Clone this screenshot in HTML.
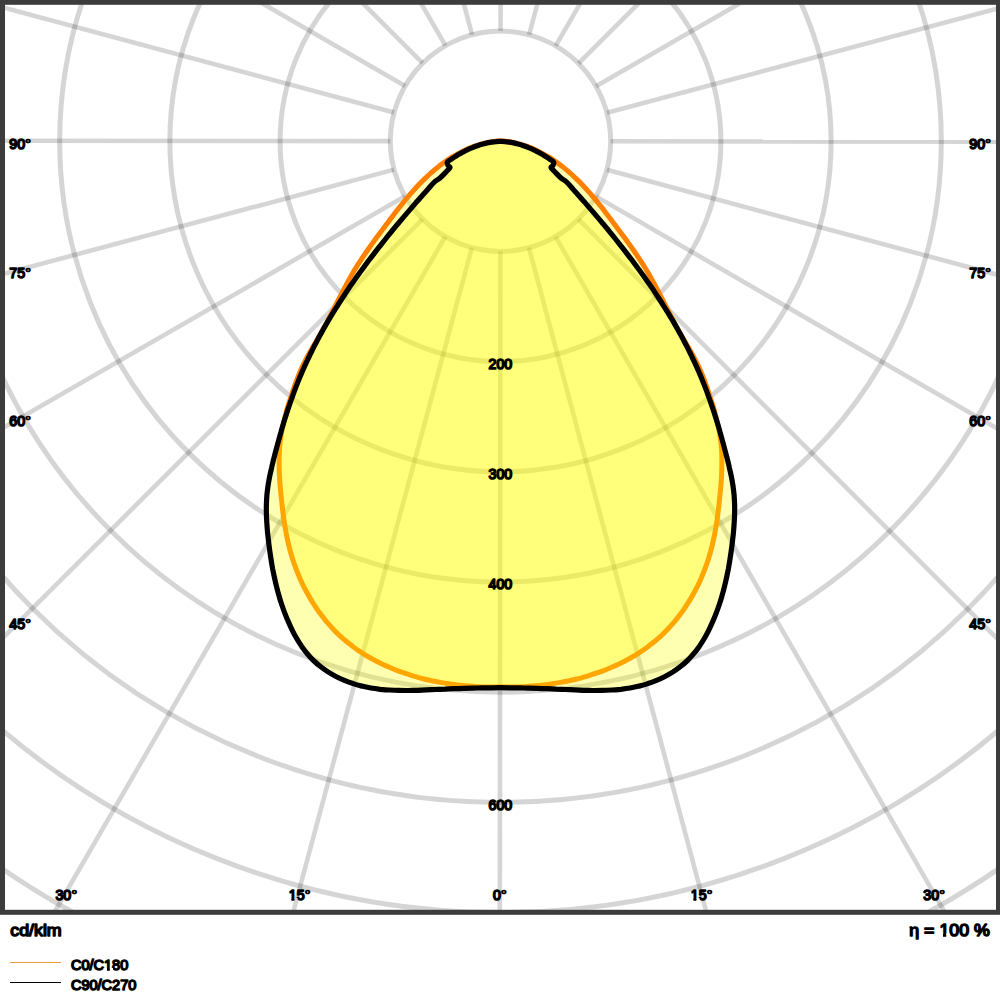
<!DOCTYPE html>
<html><head><meta charset="utf-8"><title>Polar light distribution</title>
<style>
html,body{margin:0;padding:0;background:#fff;}
body{width:1000px;height:1000px;overflow:hidden;}
svg{display:block;}
text{font-family:"Liberation Sans",sans-serif;fill:#000;stroke:#000;stroke-linejoin:round;font-kerning:none;}
.s{font-size:14.2px;stroke-width:1.6px;}
.l{font-size:14.55px;stroke-width:1.5px;}
.b{font-size:17.8px;stroke-width:1.6px;}
</style></head><body>
<svg width="1000" height="1000" viewBox="0 0 1000 1000">
<defs><clipPath id="k15"><path clip-rule="evenodd" d="M-200,-60H200V60H-200Z M-11.495,-2.111H-8.206V2.300H-11.495Z M-5.351,-2.111H-2.173V2.300H-5.351Z"/></clipPath><clipPath id="kC"><path clip-rule="evenodd" d="M-200,-60H200V60H-200Z M32.708,-2.087H36.058V2.250H32.708Z M38.844,-2.087H42.081V2.250H38.844Z"/></clipPath><clipPath id="kE"><path clip-rule="evenodd" d="M-200,-60H200V60H-200Z M-50.715,-2.380H-46.795V2.300H-50.715Z M-43.622,-2.380H-39.841V2.300H-43.622Z"/></clipPath><clipPath id="cp"><rect x="0" y="0" width="1000" height="912"/></clipPath></defs>
<rect width="1000" height="1000" fill="#fff"/>
<g clip-path="url(#cp)">
<g fill="none" stroke="#000" stroke-opacity="0.165" stroke-width="5">
<circle cx="500.50" cy="141.20" r="110.20"/>
<circle cx="500.50" cy="141.20" r="220.40"/>
<circle cx="500.50" cy="141.20" r="330.60"/>
<circle cx="500.50" cy="141.20" r="440.80"/>
<circle cx="500.50" cy="141.20" r="551.00"/>
<circle cx="500.50" cy="141.20" r="661.20"/>
<circle cx="500.50" cy="141.20" r="771.40"/>
<circle cx="500.50" cy="141.20" r="881.60"/>
<circle cx="500.50" cy="141.20" r="991.80"/>
<circle cx="500.50" cy="141.20" r="1102.00"/>
<line x1="500.50" y1="251.40" x2="500.50" y2="1441.20" stroke-width="4.6" transform="rotate(0.05 500.50 141.20)"/>
<line x1="529.02" y1="247.65" x2="836.96" y2="1396.90" stroke-width="4.6" transform="rotate(0.05 500.50 141.20)"/>
<line x1="555.60" y1="236.64" x2="1150.50" y2="1267.03" stroke-width="4.6" transform="rotate(0.05 500.50 141.20)"/>
<line x1="578.42" y1="219.12" x2="1419.74" y2="1060.44" stroke-width="4.6" transform="rotate(0.05 500.50 141.20)"/>
<line x1="595.94" y1="196.30" x2="1626.33" y2="791.20" stroke-width="4.6" transform="rotate(0.05 500.50 141.20)"/>
<line x1="606.95" y1="169.72" x2="1756.20" y2="477.66" stroke-width="4.6" transform="rotate(0.05 500.50 141.20)"/>
<line x1="610.70" y1="141.20" x2="1800.50" y2="141.20" stroke-width="4.6" transform="rotate(0.05 500.50 141.20)"/>
<line x1="606.95" y1="112.68" x2="1756.20" y2="-195.26" stroke-width="4.6" transform="rotate(0.05 500.50 141.20)"/>
<line x1="595.94" y1="86.10" x2="1626.33" y2="-508.80" stroke-width="4.6" transform="rotate(0.05 500.50 141.20)"/>
<line x1="578.42" y1="63.28" x2="1419.74" y2="-778.04" stroke-width="4.6" transform="rotate(0.05 500.50 141.20)"/>
<line x1="555.60" y1="45.76" x2="1150.50" y2="-984.63" stroke-width="4.6" transform="rotate(0.05 500.50 141.20)"/>
<line x1="529.02" y1="34.75" x2="836.96" y2="-1114.50" stroke-width="4.6" transform="rotate(0.05 500.50 141.20)"/>
<line x1="500.50" y1="31.00" x2="500.50" y2="-1158.80" stroke-width="4.6" transform="rotate(0.05 500.50 141.20)"/>
<line x1="471.98" y1="34.75" x2="164.04" y2="-1114.50" stroke-width="4.6" transform="rotate(0.05 500.50 141.20)"/>
<line x1="445.40" y1="45.76" x2="-149.50" y2="-984.63" stroke-width="4.6" transform="rotate(0.05 500.50 141.20)"/>
<line x1="422.58" y1="63.28" x2="-418.74" y2="-778.04" stroke-width="4.6" transform="rotate(0.05 500.50 141.20)"/>
<line x1="405.06" y1="86.10" x2="-625.33" y2="-508.80" stroke-width="4.6" transform="rotate(0.05 500.50 141.20)"/>
<line x1="394.05" y1="112.68" x2="-755.20" y2="-195.26" stroke-width="4.6" transform="rotate(0.05 500.50 141.20)"/>
<line x1="390.30" y1="141.20" x2="-799.50" y2="141.20" stroke-width="4.6" transform="rotate(0.05 500.50 141.20)"/>
<line x1="394.05" y1="169.72" x2="-755.20" y2="477.66" stroke-width="4.6" transform="rotate(0.05 500.50 141.20)"/>
<line x1="405.06" y1="196.30" x2="-625.33" y2="791.20" stroke-width="4.6" transform="rotate(0.05 500.50 141.20)"/>
<line x1="422.58" y1="219.12" x2="-418.74" y2="1060.44" stroke-width="4.6" transform="rotate(0.05 500.50 141.20)"/>
<line x1="445.40" y1="236.64" x2="-149.50" y2="1267.03" stroke-width="4.6" transform="rotate(0.05 500.50 141.20)"/>
<line x1="471.98" y1="247.65" x2="164.04" y2="1396.90" stroke-width="4.6" transform="rotate(0.05 500.50 141.20)"/>
</g>
<path d="M500.5,141.0 C499.1,141.1 494.8,141.3 492.0,141.7 C489.2,142.1 486.4,142.7 483.6,143.4 C480.9,144.1 478.1,144.9 475.4,145.8 C472.7,146.8 470.0,147.8 467.3,149.0 C464.7,150.2 462.1,151.5 459.5,152.9 C456.9,154.2 454.4,155.7 451.9,157.2 C449.4,158.8 446.9,160.4 444.6,162.1 C442.2,163.8 439.8,165.6 437.6,167.4 C435.3,169.2 433.1,171.1 430.9,173.0 C428.8,174.9 426.7,176.9 424.6,178.9 C422.5,180.9 420.5,182.9 418.5,185.0 C416.5,187.1 414.6,189.2 412.7,191.4 C410.7,193.6 408.9,195.7 407.0,198.0 C405.1,200.2 403.3,202.4 401.5,204.7 C399.7,206.9 397.9,209.2 396.1,211.5 C394.4,213.8 392.6,216.1 390.9,218.4 C389.1,220.7 387.4,223.1 385.6,225.4 C383.9,227.7 382.2,230.0 380.5,232.4 C378.7,234.7 377.0,237.0 375.3,239.3 C373.6,241.7 371.9,244.0 370.2,246.4 C368.6,248.7 366.9,251.1 365.3,253.5 C363.6,255.8 362.0,258.2 360.5,260.7 C358.9,263.1 357.3,265.5 355.8,268.0 C354.3,270.4 352.9,272.9 351.4,275.4 C350.0,277.9 348.6,280.4 347.2,283.0 C345.8,285.5 344.5,288.1 343.1,290.7 C341.8,293.2 340.5,295.8 339.1,298.4 C337.8,301.0 336.5,303.6 335.2,306.2 C333.9,308.8 332.6,311.3 331.2,313.9 C329.9,316.5 328.6,319.1 327.2,321.7 C325.9,324.2 324.5,326.8 323.1,329.3 C321.7,331.8 320.3,334.4 318.8,336.9 C317.4,339.4 315.9,341.8 314.5,344.3 C313.0,346.8 311.6,349.3 310.1,351.8 C308.7,354.3 307.3,356.8 306.0,359.4 C304.7,361.9 303.4,364.5 302.1,367.1 C300.9,369.7 299.8,372.4 298.7,375.0 C297.6,377.7 296.6,380.4 295.6,383.1 C294.6,385.9 293.6,388.6 292.7,391.4 C291.8,394.1 290.9,396.9 290.0,399.7 C289.1,402.4 288.2,405.2 287.4,408.0 C286.6,410.8 285.8,413.7 285.1,416.5 C284.4,419.3 283.7,422.1 283.1,425.0 C282.4,427.8 281.9,430.6 281.4,433.5 C280.9,436.3 280.5,439.2 280.2,442.1 C279.8,444.9 279.6,447.8 279.4,450.7 C279.3,453.5 279.2,456.4 279.1,459.3 C279.1,462.2 279.1,465.0 279.2,467.9 C279.2,470.8 279.4,473.7 279.5,476.6 C279.7,479.5 279.9,482.4 280.1,485.3 C280.3,488.1 280.6,491.0 280.9,493.9 C281.2,496.8 281.5,499.7 281.8,502.6 C282.1,505.5 282.4,508.3 282.8,511.2 C283.1,514.1 283.5,517.0 283.9,519.8 C284.3,522.7 284.8,525.6 285.3,528.4 C285.8,531.3 286.3,534.1 286.9,537.0 C287.5,539.8 288.1,542.6 288.8,545.4 C289.5,548.2 290.2,551.0 291.0,553.8 C291.8,556.6 292.7,559.4 293.6,562.1 C294.6,564.9 295.6,567.6 296.6,570.3 C297.7,573.1 298.8,575.7 299.9,578.4 C301.1,581.1 302.3,583.7 303.6,586.3 C304.9,588.9 306.3,591.5 307.7,594.0 C309.1,596.6 310.5,599.1 312.1,601.5 C313.6,604.0 315.2,606.4 316.8,608.8 C318.4,611.2 320.1,613.5 321.9,615.8 C323.6,618.1 325.4,620.4 327.3,622.6 C329.2,624.7 331.1,626.9 333.1,629.0 C335.0,631.1 337.1,633.1 339.1,635.1 C341.2,637.0 343.4,638.9 345.6,640.8 C347.8,642.6 350.0,644.4 352.3,646.1 C354.6,647.9 356.9,649.5 359.3,651.1 C361.7,652.7 364.2,654.3 366.6,655.8 C369.1,657.2 371.6,658.7 374.2,660.0 C376.7,661.4 379.3,662.7 381.9,664.0 C384.6,665.2 387.2,666.4 389.9,667.5 C392.6,668.7 395.3,669.8 398.0,670.8 C400.7,671.8 403.5,672.8 406.3,673.7 C409.0,674.7 411.8,675.5 414.6,676.4 C417.4,677.2 420.3,677.9 423.1,678.7 C425.9,679.4 428.8,680.0 431.6,680.7 C434.5,681.3 437.3,681.9 440.2,682.4 C443.0,682.9 445.9,683.4 448.7,683.8 C451.6,684.2 454.4,684.6 457.3,684.9 C460.2,685.3 463.0,685.6 465.9,685.8 C468.8,686.1 471.6,686.3 474.5,686.5 C477.4,686.7 480.2,686.8 483.1,686.9 C486.0,687.0 488.8,687.1 491.7,687.1 C494.6,687.1 497.6,687.1 500.5,687.1 C503.4,687.1 506.4,687.1 509.3,687.1 C512.2,687.1 515.0,687.0 517.9,686.9 C520.8,686.8 523.6,686.7 526.5,686.5 C529.4,686.3 532.2,686.1 535.1,685.8 C538.0,685.6 540.8,685.3 543.7,684.9 C546.6,684.6 549.4,684.2 552.3,683.8 C555.1,683.4 558.0,682.9 560.8,682.4 C563.7,681.9 566.5,681.3 569.4,680.7 C572.2,680.0 575.1,679.4 577.9,678.7 C580.7,677.9 583.6,677.2 586.4,676.4 C589.2,675.5 592.0,674.7 594.7,673.7 C597.5,672.8 600.3,671.8 603.0,670.8 C605.7,669.8 608.4,668.7 611.1,667.5 C613.8,666.4 616.4,665.2 619.1,664.0 C621.7,662.7 624.3,661.4 626.8,660.0 C629.4,658.7 631.9,657.2 634.4,655.8 C636.8,654.3 639.3,652.7 641.7,651.1 C644.1,649.5 646.4,647.9 648.7,646.1 C651.0,644.4 653.2,642.6 655.4,640.8 C657.6,638.9 659.8,637.0 661.9,635.1 C663.9,633.1 666.0,631.1 667.9,629.0 C669.9,626.9 671.8,624.7 673.7,622.6 C675.6,620.4 677.4,618.1 679.1,615.8 C680.9,613.5 682.6,611.2 684.2,608.8 C685.8,606.4 687.4,604.0 688.9,601.5 C690.5,599.1 691.9,596.6 693.3,594.0 C694.7,591.5 696.1,588.9 697.4,586.3 C698.7,583.7 699.9,581.1 701.1,578.4 C702.2,575.7 703.3,573.1 704.4,570.3 C705.4,567.6 706.4,564.9 707.4,562.1 C708.3,559.4 709.2,556.6 710.0,553.8 C710.8,551.0 711.5,548.2 712.2,545.4 C712.9,542.6 713.5,539.8 714.1,537.0 C714.7,534.1 715.2,531.3 715.7,528.4 C716.2,525.6 716.7,522.7 717.1,519.8 C717.5,517.0 717.9,514.1 718.2,511.2 C718.6,508.3 718.9,505.5 719.2,502.6 C719.5,499.7 719.8,496.8 720.1,493.9 C720.4,491.0 720.7,488.1 720.9,485.3 C721.1,482.4 721.3,479.5 721.5,476.6 C721.6,473.7 721.8,470.8 721.8,467.9 C721.9,465.0 721.9,462.2 721.9,459.3 C721.8,456.4 721.7,453.5 721.6,450.7 C721.4,447.8 721.2,444.9 720.8,442.1 C720.5,439.2 720.1,436.3 719.6,433.5 C719.1,430.6 718.6,427.8 717.9,425.0 C717.3,422.1 716.6,419.3 715.9,416.5 C715.2,413.7 714.4,410.8 713.6,408.0 C712.8,405.2 711.9,402.4 711.0,399.7 C710.1,396.9 709.2,394.1 708.3,391.4 C707.4,388.6 706.4,385.9 705.4,383.1 C704.4,380.4 703.4,377.7 702.3,375.0 C701.2,372.4 700.1,369.7 698.9,367.1 C697.6,364.5 696.3,361.9 695.0,359.4 C693.7,356.8 692.3,354.3 690.9,351.8 C689.4,349.3 688.0,346.8 686.5,344.3 C685.1,341.8 683.6,339.4 682.2,336.9 C680.7,334.4 679.3,331.8 677.9,329.3 C676.5,326.8 675.1,324.2 673.8,321.7 C672.4,319.1 671.1,316.5 669.8,313.9 C668.4,311.3 667.1,308.8 665.8,306.2 C664.5,303.6 663.2,301.0 661.9,298.4 C660.5,295.8 659.2,293.2 657.9,290.7 C656.5,288.1 655.2,285.5 653.8,283.0 C652.4,280.4 651.0,277.9 649.6,275.4 C648.1,272.9 646.7,270.4 645.2,268.0 C643.7,265.5 642.1,263.1 640.5,260.7 C639.0,258.2 637.4,255.8 635.7,253.5 C634.1,251.1 632.4,248.7 630.8,246.4 C629.1,244.0 627.4,241.7 625.7,239.3 C624.0,237.0 622.3,234.7 620.5,232.4 C618.8,230.0 617.1,227.7 615.4,225.4 C613.6,223.1 611.9,220.7 610.1,218.4 C608.4,216.1 606.6,213.8 604.9,211.5 C603.1,209.2 601.3,206.9 599.5,204.7 C597.7,202.4 595.9,200.2 594.0,198.0 C592.1,195.7 590.3,193.6 588.3,191.4 C586.4,189.2 584.5,187.1 582.5,185.0 C580.5,182.9 578.5,180.9 576.4,178.9 C574.3,176.9 572.2,174.9 570.1,173.0 C567.9,171.1 565.7,169.2 563.4,167.4 C561.2,165.6 558.8,163.8 556.4,162.1 C554.1,160.4 551.6,158.8 549.1,157.2 C546.6,155.7 544.1,154.2 541.5,152.9 C538.9,151.5 536.3,150.2 533.7,149.0 C531.0,147.8 528.3,146.8 525.6,145.8 C522.9,144.9 520.1,144.1 517.4,143.4 C514.6,142.7 511.8,142.1 509.0,141.7 C506.2,141.3 501.9,141.1 500.5,141.0 Z" fill="#ffff00" fill-opacity="0.3"/>
<path d="M500.5,141.0 C499.1,141.1 494.8,141.3 492.0,141.7 C489.2,142.1 486.4,142.7 483.6,143.4 C480.9,144.1 478.1,144.9 475.4,145.8 C472.7,146.8 470.0,147.8 467.3,149.0 C464.7,150.2 462.1,151.5 459.5,152.9 C456.9,154.2 454.4,155.7 451.9,157.2 C449.4,158.8 446.9,160.4 444.6,162.1 C442.2,163.8 439.8,165.6 437.6,167.4 C435.3,169.2 433.1,171.1 430.9,173.0 C428.8,174.9 426.7,176.9 424.6,178.9 C422.5,180.9 420.5,182.9 418.5,185.0 C416.5,187.1 414.6,189.2 412.7,191.4 C410.7,193.6 408.9,195.7 407.0,198.0 C405.1,200.2 403.3,202.4 401.5,204.7 C399.7,206.9 397.9,209.2 396.1,211.5 C394.4,213.8 392.6,216.1 390.9,218.4 C389.1,220.7 387.4,223.1 385.6,225.4 C383.9,227.7 382.2,230.0 380.5,232.4 C378.7,234.7 377.0,237.0 375.3,239.3 C373.6,241.7 371.9,244.0 370.2,246.4 C368.6,248.7 366.9,251.1 365.3,253.5 C363.6,255.8 362.0,258.2 360.5,260.7 C358.9,263.1 357.3,265.5 355.8,268.0 C354.3,270.4 352.9,272.9 351.4,275.4 C350.0,277.9 348.6,280.4 347.2,283.0 C345.8,285.5 344.5,288.1 343.1,290.7 C341.8,293.2 340.5,295.8 339.1,298.4 C337.8,301.0 336.5,303.6 335.2,306.2 C333.9,308.8 332.6,311.3 331.2,313.9 C329.9,316.5 328.6,319.1 327.2,321.7 C325.9,324.2 324.5,326.8 323.1,329.3 C321.7,331.8 320.3,334.4 318.8,336.9 C317.4,339.4 315.9,341.8 314.5,344.3 C313.0,346.8 311.6,349.3 310.1,351.8 C308.7,354.3 307.3,356.8 306.0,359.4 C304.7,361.9 303.4,364.5 302.1,367.1 C300.9,369.7 299.8,372.4 298.7,375.0 C297.6,377.7 296.6,380.4 295.6,383.1 C294.6,385.9 293.6,388.6 292.7,391.4 C291.8,394.1 290.9,396.9 290.0,399.7 C289.1,402.4 288.2,405.2 287.4,408.0 C286.6,410.8 285.8,413.7 285.1,416.5 C284.4,419.3 283.7,422.1 283.1,425.0 C282.4,427.8 281.9,430.6 281.4,433.5 C280.9,436.3 280.5,439.2 280.2,442.1 C279.8,444.9 279.6,447.8 279.4,450.7 C279.3,453.5 279.2,456.4 279.1,459.3 C279.1,462.2 279.1,465.0 279.2,467.9 C279.2,470.8 279.4,473.7 279.5,476.6 C279.7,479.5 279.9,482.4 280.1,485.3 C280.3,488.1 280.6,491.0 280.9,493.9 C281.2,496.8 281.5,499.7 281.8,502.6 C282.1,505.5 282.4,508.3 282.8,511.2 C283.1,514.1 283.5,517.0 283.9,519.8 C284.3,522.7 284.8,525.6 285.3,528.4 C285.8,531.3 286.3,534.1 286.9,537.0 C287.5,539.8 288.1,542.6 288.8,545.4 C289.5,548.2 290.2,551.0 291.0,553.8 C291.8,556.6 292.7,559.4 293.6,562.1 C294.6,564.9 295.6,567.6 296.6,570.3 C297.7,573.1 298.8,575.7 299.9,578.4 C301.1,581.1 302.3,583.7 303.6,586.3 C304.9,588.9 306.3,591.5 307.7,594.0 C309.1,596.6 310.5,599.1 312.1,601.5 C313.6,604.0 315.2,606.4 316.8,608.8 C318.4,611.2 320.1,613.5 321.9,615.8 C323.6,618.1 325.4,620.4 327.3,622.6 C329.2,624.7 331.1,626.9 333.1,629.0 C335.0,631.1 337.1,633.1 339.1,635.1 C341.2,637.0 343.4,638.9 345.6,640.8 C347.8,642.6 350.0,644.4 352.3,646.1 C354.6,647.9 356.9,649.5 359.3,651.1 C361.7,652.7 364.2,654.3 366.6,655.8 C369.1,657.2 371.6,658.7 374.2,660.0 C376.7,661.4 379.3,662.7 381.9,664.0 C384.6,665.2 387.2,666.4 389.9,667.5 C392.6,668.7 395.3,669.8 398.0,670.8 C400.7,671.8 403.5,672.8 406.3,673.7 C409.0,674.7 411.8,675.5 414.6,676.4 C417.4,677.2 420.3,677.9 423.1,678.7 C425.9,679.4 428.8,680.0 431.6,680.7 C434.5,681.3 437.3,681.9 440.2,682.4 C443.0,682.9 445.9,683.4 448.7,683.8 C451.6,684.2 454.4,684.6 457.3,684.9 C460.2,685.3 463.0,685.6 465.9,685.8 C468.8,686.1 471.6,686.3 474.5,686.5 C477.4,686.7 480.2,686.8 483.1,686.9 C486.0,687.0 488.8,687.1 491.7,687.1 C494.6,687.1 497.6,687.1 500.5,687.1 C503.4,687.1 506.4,687.1 509.3,687.1 C512.2,687.1 515.0,687.0 517.9,686.9 C520.8,686.8 523.6,686.7 526.5,686.5 C529.4,686.3 532.2,686.1 535.1,685.8 C538.0,685.6 540.8,685.3 543.7,684.9 C546.6,684.6 549.4,684.2 552.3,683.8 C555.1,683.4 558.0,682.9 560.8,682.4 C563.7,681.9 566.5,681.3 569.4,680.7 C572.2,680.0 575.1,679.4 577.9,678.7 C580.7,677.9 583.6,677.2 586.4,676.4 C589.2,675.5 592.0,674.7 594.7,673.7 C597.5,672.8 600.3,671.8 603.0,670.8 C605.7,669.8 608.4,668.7 611.1,667.5 C613.8,666.4 616.4,665.2 619.1,664.0 C621.7,662.7 624.3,661.4 626.8,660.0 C629.4,658.7 631.9,657.2 634.4,655.8 C636.8,654.3 639.3,652.7 641.7,651.1 C644.1,649.5 646.4,647.9 648.7,646.1 C651.0,644.4 653.2,642.6 655.4,640.8 C657.6,638.9 659.8,637.0 661.9,635.1 C663.9,633.1 666.0,631.1 667.9,629.0 C669.9,626.9 671.8,624.7 673.7,622.6 C675.6,620.4 677.4,618.1 679.1,615.8 C680.9,613.5 682.6,611.2 684.2,608.8 C685.8,606.4 687.4,604.0 688.9,601.5 C690.5,599.1 691.9,596.6 693.3,594.0 C694.7,591.5 696.1,588.9 697.4,586.3 C698.7,583.7 699.9,581.1 701.1,578.4 C702.2,575.7 703.3,573.1 704.4,570.3 C705.4,567.6 706.4,564.9 707.4,562.1 C708.3,559.4 709.2,556.6 710.0,553.8 C710.8,551.0 711.5,548.2 712.2,545.4 C712.9,542.6 713.5,539.8 714.1,537.0 C714.7,534.1 715.2,531.3 715.7,528.4 C716.2,525.6 716.7,522.7 717.1,519.8 C717.5,517.0 717.9,514.1 718.2,511.2 C718.6,508.3 718.9,505.5 719.2,502.6 C719.5,499.7 719.8,496.8 720.1,493.9 C720.4,491.0 720.7,488.1 720.9,485.3 C721.1,482.4 721.3,479.5 721.5,476.6 C721.6,473.7 721.8,470.8 721.8,467.9 C721.9,465.0 721.9,462.2 721.9,459.3 C721.8,456.4 721.7,453.5 721.6,450.7 C721.4,447.8 721.2,444.9 720.8,442.1 C720.5,439.2 720.1,436.3 719.6,433.5 C719.1,430.6 718.6,427.8 717.9,425.0 C717.3,422.1 716.6,419.3 715.9,416.5 C715.2,413.7 714.4,410.8 713.6,408.0 C712.8,405.2 711.9,402.4 711.0,399.7 C710.1,396.9 709.2,394.1 708.3,391.4 C707.4,388.6 706.4,385.9 705.4,383.1 C704.4,380.4 703.4,377.7 702.3,375.0 C701.2,372.4 700.1,369.7 698.9,367.1 C697.6,364.5 696.3,361.9 695.0,359.4 C693.7,356.8 692.3,354.3 690.9,351.8 C689.4,349.3 688.0,346.8 686.5,344.3 C685.1,341.8 683.6,339.4 682.2,336.9 C680.7,334.4 679.3,331.8 677.9,329.3 C676.5,326.8 675.1,324.2 673.8,321.7 C672.4,319.1 671.1,316.5 669.8,313.9 C668.4,311.3 667.1,308.8 665.8,306.2 C664.5,303.6 663.2,301.0 661.9,298.4 C660.5,295.8 659.2,293.2 657.9,290.7 C656.5,288.1 655.2,285.5 653.8,283.0 C652.4,280.4 651.0,277.9 649.6,275.4 C648.1,272.9 646.7,270.4 645.2,268.0 C643.7,265.5 642.1,263.1 640.5,260.7 C639.0,258.2 637.4,255.8 635.7,253.5 C634.1,251.1 632.4,248.7 630.8,246.4 C629.1,244.0 627.4,241.7 625.7,239.3 C624.0,237.0 622.3,234.7 620.5,232.4 C618.8,230.0 617.1,227.7 615.4,225.4 C613.6,223.1 611.9,220.7 610.1,218.4 C608.4,216.1 606.6,213.8 604.9,211.5 C603.1,209.2 601.3,206.9 599.5,204.7 C597.7,202.4 595.9,200.2 594.0,198.0 C592.1,195.7 590.3,193.6 588.3,191.4 C586.4,189.2 584.5,187.1 582.5,185.0 C580.5,182.9 578.5,180.9 576.4,178.9 C574.3,176.9 572.2,174.9 570.1,173.0 C567.9,171.1 565.7,169.2 563.4,167.4 C561.2,165.6 558.8,163.8 556.4,162.1 C554.1,160.4 551.6,158.8 549.1,157.2 C546.6,155.7 544.1,154.2 541.5,152.9 C538.9,151.5 536.3,150.2 533.7,149.0 C531.0,147.8 528.3,146.8 525.6,145.8 C522.9,144.9 520.1,144.1 517.4,143.4 C514.6,142.7 511.8,142.1 509.0,141.7 C506.2,141.3 501.9,141.1 500.5,141.0 Z" fill="none" stroke="#ff8000" stroke-width="5" stroke-linejoin="round"/>
<path d="M500.5,141.3 C499.8,141.4 497.6,141.4 496.1,141.6 C494.7,141.7 493.2,141.9 491.8,142.1 C490.3,142.3 488.8,142.6 487.4,142.9 C486.0,143.2 484.5,143.6 483.1,144.0 C481.6,144.3 480.2,144.8 478.8,145.2 C477.4,145.7 475.9,146.2 474.6,146.7 C473.2,147.3 471.8,147.8 470.4,148.4 C469.0,149.0 467.6,149.7 466.3,150.3 C465.0,151.0 463.6,151.6 462.3,152.4 C461.0,153.1 459.7,153.8 458.4,154.5 C457.1,155.3 455.9,156.1 454.6,156.9 C453.4,157.7 452.2,158.5 451.0,159.3 C449.8,160.2 447.9,160.8 447.4,161.9 C446.9,162.9 447.6,164.6 448.0,165.5 C448.4,166.4 450.3,166.4 450.0,167.5 C449.7,168.6 447.7,170.2 446.0,172.0 C444.3,173.8 442.0,176.3 440.0,178.0 C438.0,179.7 436.3,180.3 434.3,182.1 C432.3,183.9 430.2,186.6 428.2,188.9 C426.2,191.1 424.1,193.4 422.1,195.7 C420.1,198.0 418.1,200.3 416.0,202.6 C414.0,204.9 412.0,207.3 410.0,209.6 C408.0,211.9 406.0,214.3 404.0,216.6 C402.0,219.0 400.0,221.3 398.0,223.7 C396.1,226.1 394.1,228.5 392.1,230.8 C390.2,233.2 388.2,235.6 386.3,238.0 C384.3,240.5 382.4,242.9 380.5,245.3 C378.6,247.7 376.6,250.2 374.8,252.6 C372.9,255.1 371.0,257.6 369.1,260.0 C367.3,262.5 365.4,265.0 363.6,267.5 C361.7,270.0 359.9,272.5 358.1,275.0 C356.3,277.5 354.5,280.0 352.8,282.6 C351.0,285.1 349.2,287.7 347.5,290.2 C345.8,292.8 344.1,295.4 342.4,298.0 C340.7,300.6 339.0,303.2 337.4,305.8 C335.7,308.4 334.1,311.0 332.5,313.6 C330.9,316.3 329.3,318.9 327.7,321.6 C326.2,324.2 324.7,326.9 323.2,329.6 C321.6,332.3 320.2,335.0 318.7,337.7 C317.3,340.4 315.8,343.1 314.4,345.9 C313.0,348.6 311.7,351.3 310.3,354.1 C309.0,356.9 307.7,359.7 306.4,362.4 C305.1,365.2 303.8,368.0 302.6,370.8 C301.4,373.7 300.2,376.5 299.0,379.3 C297.9,382.2 296.7,385.0 295.6,387.9 C294.5,390.8 293.4,393.7 292.4,396.6 C291.3,399.5 290.3,402.4 289.3,405.3 C288.3,408.2 287.3,411.1 286.4,414.1 C285.4,417.0 284.5,420.0 283.6,423.0 C282.7,425.9 281.8,428.9 281.0,431.9 C280.1,434.9 279.3,437.9 278.5,440.9 C277.7,443.9 276.9,446.8 276.1,449.8 C275.3,452.8 274.5,455.8 273.7,458.8 C273.0,461.8 272.2,464.8 271.6,467.8 C270.9,470.8 270.2,473.8 269.6,476.8 C269.0,479.8 268.5,482.9 268.0,485.9 C267.6,488.9 267.2,491.9 266.9,495.0 C266.7,498.0 266.5,501.1 266.4,504.2 C266.3,507.2 266.3,510.3 266.4,513.4 C266.4,516.5 266.6,519.6 266.8,522.6 C267.0,525.7 267.2,528.8 267.5,531.9 C267.8,535.0 268.2,538.1 268.5,541.2 C268.9,544.3 269.3,547.3 269.7,550.4 C270.1,553.5 270.6,556.5 271.1,559.6 C271.5,562.6 272.1,565.7 272.6,568.7 C273.2,571.7 273.8,574.8 274.5,577.8 C275.1,580.8 275.8,583.8 276.6,586.8 C277.3,589.7 278.1,592.7 279.0,595.7 C279.8,598.6 280.7,601.6 281.7,604.5 C282.7,607.4 283.7,610.3 284.8,613.2 C285.9,616.1 287.1,619.0 288.4,621.8 C289.6,624.7 290.9,627.5 292.3,630.3 C293.7,633.1 295.2,635.9 296.7,638.5 C298.3,641.2 300.0,643.9 301.7,646.4 C303.5,648.9 305.3,651.4 307.3,653.7 C309.3,656.1 311.3,658.4 313.5,660.5 C315.7,662.6 318.0,664.6 320.5,666.5 C322.9,668.4 325.4,670.2 328.0,671.9 C330.6,673.5 333.2,675.1 336.0,676.5 C338.7,677.9 341.5,679.2 344.4,680.4 C347.2,681.6 350.1,682.7 353.1,683.6 C356.0,684.6 359.0,685.4 361.9,686.1 C364.9,686.9 367.9,687.5 370.9,688.0 C374.0,688.5 377.0,688.9 380.1,689.3 C383.1,689.6 386.2,689.9 389.2,690.0 C392.3,690.2 395.4,690.4 398.5,690.4 C401.6,690.5 404.7,690.5 407.8,690.5 C410.9,690.4 414.0,690.4 417.1,690.3 C420.2,690.2 423.4,690.0 426.5,689.9 C429.6,689.8 432.7,689.6 435.8,689.5 C438.9,689.3 442.0,689.2 445.1,689.1 C448.2,688.9 451.3,688.8 454.4,688.7 C457.5,688.6 460.5,688.5 463.6,688.4 C466.7,688.3 469.8,688.2 472.8,688.1 C475.9,688.0 479.0,688.0 482.0,687.9 C485.1,687.9 488.2,687.8 491.2,687.8 C494.3,687.7 497.4,687.7 500.5,687.7 C503.6,687.7 506.7,687.7 509.8,687.8 C512.8,687.8 515.9,687.9 519.0,687.9 C522.0,688.0 525.1,688.0 528.2,688.1 C531.2,688.2 534.3,688.3 537.4,688.4 C540.5,688.5 543.5,688.6 546.6,688.7 C549.7,688.8 552.8,688.9 555.9,689.1 C559.0,689.2 562.1,689.3 565.2,689.5 C568.3,689.6 571.4,689.8 574.5,689.9 C577.6,690.0 580.8,690.2 583.9,690.3 C587.0,690.4 590.1,690.4 593.2,690.5 C596.3,690.5 599.4,690.5 602.5,690.4 C605.6,690.4 608.7,690.2 611.8,690.0 C614.8,689.9 617.9,689.6 620.9,689.3 C624.0,688.9 627.0,688.5 630.1,688.0 C633.1,687.5 636.1,686.9 639.1,686.1 C642.0,685.4 645.0,684.6 647.9,683.6 C650.9,682.7 653.8,681.6 656.6,680.4 C659.5,679.2 662.3,677.9 665.0,676.5 C667.8,675.1 670.4,673.5 673.0,671.9 C675.6,670.2 678.1,668.4 680.5,666.5 C683.0,664.6 685.3,662.6 687.5,660.5 C689.7,658.4 691.7,656.1 693.7,653.7 C695.7,651.4 697.5,648.9 699.3,646.4 C701.0,643.9 702.7,641.2 704.3,638.5 C705.8,635.9 707.3,633.1 708.7,630.3 C710.1,627.5 711.4,624.7 712.6,621.8 C713.9,619.0 715.1,616.1 716.2,613.2 C717.3,610.3 718.3,607.4 719.3,604.5 C720.3,601.6 721.2,598.6 722.0,595.7 C722.9,592.7 723.7,589.7 724.4,586.8 C725.2,583.8 725.9,580.8 726.5,577.8 C727.2,574.8 727.8,571.7 728.4,568.7 C728.9,565.7 729.5,562.6 729.9,559.6 C730.4,556.5 730.9,553.5 731.3,550.4 C731.7,547.3 732.1,544.3 732.5,541.2 C732.8,538.1 733.2,535.0 733.5,531.9 C733.8,528.8 734.0,525.7 734.2,522.6 C734.4,519.6 734.6,516.5 734.6,513.4 C734.7,510.3 734.7,507.2 734.6,504.2 C734.5,501.1 734.3,498.0 734.1,495.0 C733.8,491.9 733.4,488.9 733.0,485.9 C732.5,482.9 732.0,479.8 731.4,476.8 C730.8,473.8 730.1,470.8 729.4,467.8 C728.8,464.8 728.0,461.8 727.3,458.8 C726.5,455.8 725.7,452.8 724.9,449.8 C724.1,446.8 723.3,443.9 722.5,440.9 C721.7,437.9 720.9,434.9 720.0,431.9 C719.2,428.9 718.3,425.9 717.4,423.0 C716.5,420.0 715.6,417.0 714.6,414.1 C713.7,411.1 712.7,408.2 711.7,405.3 C710.7,402.4 709.7,399.5 708.6,396.6 C707.6,393.7 706.5,390.8 705.4,387.9 C704.3,385.0 703.1,382.2 702.0,379.3 C700.8,376.5 699.6,373.7 698.4,370.8 C697.2,368.0 695.9,365.2 694.6,362.4 C693.3,359.7 692.0,356.9 690.7,354.1 C689.3,351.3 688.0,348.6 686.6,345.9 C685.2,343.1 683.7,340.4 682.3,337.7 C680.8,335.0 679.4,332.3 677.8,329.6 C676.3,326.9 674.8,324.2 673.3,321.6 C671.7,318.9 670.1,316.3 668.5,313.6 C666.9,311.0 665.3,308.4 663.6,305.8 C662.0,303.2 660.3,300.6 658.6,298.0 C656.9,295.4 655.2,292.8 653.5,290.2 C651.8,287.7 650.0,285.1 648.2,282.6 C646.5,280.0 644.7,277.5 642.9,275.0 C641.1,272.5 639.3,270.0 637.4,267.5 C635.6,265.0 633.7,262.5 631.9,260.0 C630.0,257.6 628.1,255.1 626.2,252.6 C624.4,250.2 622.4,247.7 620.5,245.3 C618.6,242.9 616.7,240.5 614.7,238.0 C612.8,235.6 610.8,233.2 608.9,230.8 C606.9,228.5 604.9,226.1 603.0,223.7 C601.0,221.3 599.0,219.0 597.0,216.6 C595.0,214.3 593.0,211.9 591.0,209.6 C589.0,207.3 587.0,204.9 585.0,202.6 C582.9,200.3 580.9,198.0 578.9,195.7 C576.9,193.4 574.8,191.1 572.8,188.9 C570.8,186.6 568.7,183.9 566.7,182.1 C564.7,180.3 563.0,179.7 561.0,178.0 C559.0,176.3 556.7,173.8 555.0,172.0 C553.3,170.2 551.3,168.6 551.0,167.5 C550.7,166.4 552.6,166.4 553.0,165.5 C553.4,164.6 554.1,162.9 553.6,161.9 C553.1,160.8 551.2,160.2 550.0,159.3 C548.8,158.5 547.6,157.7 546.4,156.9 C545.1,156.1 543.9,155.3 542.6,154.5 C541.3,153.8 540.0,153.1 538.7,152.4 C537.4,151.6 536.0,151.0 534.7,150.3 C533.4,149.7 532.0,149.0 530.6,148.4 C529.2,147.8 527.8,147.3 526.4,146.7 C525.1,146.2 523.6,145.7 522.2,145.2 C520.8,144.8 519.4,144.3 517.9,144.0 C516.5,143.6 515.0,143.2 513.6,142.9 C512.2,142.6 510.7,142.3 509.2,142.1 C507.8,141.9 506.3,141.7 504.9,141.6 C503.4,141.4 501.2,141.4 500.5,141.3 Z" fill="#ffff00" fill-opacity="0.3"/>
<path d="M500.5,141.3 C499.8,141.4 497.6,141.4 496.1,141.6 C494.7,141.7 493.2,141.9 491.8,142.1 C490.3,142.3 488.8,142.6 487.4,142.9 C486.0,143.2 484.5,143.6 483.1,144.0 C481.6,144.3 480.2,144.8 478.8,145.2 C477.4,145.7 475.9,146.2 474.6,146.7 C473.2,147.3 471.8,147.8 470.4,148.4 C469.0,149.0 467.6,149.7 466.3,150.3 C465.0,151.0 463.6,151.6 462.3,152.4 C461.0,153.1 459.7,153.8 458.4,154.5 C457.1,155.3 455.9,156.1 454.6,156.9 C453.4,157.7 452.2,158.5 451.0,159.3 C449.8,160.2 447.9,160.8 447.4,161.9 C446.9,162.9 447.6,164.6 448.0,165.5 C448.4,166.4 450.3,166.4 450.0,167.5 C449.7,168.6 447.7,170.2 446.0,172.0 C444.3,173.8 442.0,176.3 440.0,178.0 C438.0,179.7 436.3,180.3 434.3,182.1 C432.3,183.9 430.2,186.6 428.2,188.9 C426.2,191.1 424.1,193.4 422.1,195.7 C420.1,198.0 418.1,200.3 416.0,202.6 C414.0,204.9 412.0,207.3 410.0,209.6 C408.0,211.9 406.0,214.3 404.0,216.6 C402.0,219.0 400.0,221.3 398.0,223.7 C396.1,226.1 394.1,228.5 392.1,230.8 C390.2,233.2 388.2,235.6 386.3,238.0 C384.3,240.5 382.4,242.9 380.5,245.3 C378.6,247.7 376.6,250.2 374.8,252.6 C372.9,255.1 371.0,257.6 369.1,260.0 C367.3,262.5 365.4,265.0 363.6,267.5 C361.7,270.0 359.9,272.5 358.1,275.0 C356.3,277.5 354.5,280.0 352.8,282.6 C351.0,285.1 349.2,287.7 347.5,290.2 C345.8,292.8 344.1,295.4 342.4,298.0 C340.7,300.6 339.0,303.2 337.4,305.8 C335.7,308.4 334.1,311.0 332.5,313.6 C330.9,316.3 329.3,318.9 327.7,321.6 C326.2,324.2 324.7,326.9 323.2,329.6 C321.6,332.3 320.2,335.0 318.7,337.7 C317.3,340.4 315.8,343.1 314.4,345.9 C313.0,348.6 311.7,351.3 310.3,354.1 C309.0,356.9 307.7,359.7 306.4,362.4 C305.1,365.2 303.8,368.0 302.6,370.8 C301.4,373.7 300.2,376.5 299.0,379.3 C297.9,382.2 296.7,385.0 295.6,387.9 C294.5,390.8 293.4,393.7 292.4,396.6 C291.3,399.5 290.3,402.4 289.3,405.3 C288.3,408.2 287.3,411.1 286.4,414.1 C285.4,417.0 284.5,420.0 283.6,423.0 C282.7,425.9 281.8,428.9 281.0,431.9 C280.1,434.9 279.3,437.9 278.5,440.9 C277.7,443.9 276.9,446.8 276.1,449.8 C275.3,452.8 274.5,455.8 273.7,458.8 C273.0,461.8 272.2,464.8 271.6,467.8 C270.9,470.8 270.2,473.8 269.6,476.8 C269.0,479.8 268.5,482.9 268.0,485.9 C267.6,488.9 267.2,491.9 266.9,495.0 C266.7,498.0 266.5,501.1 266.4,504.2 C266.3,507.2 266.3,510.3 266.4,513.4 C266.4,516.5 266.6,519.6 266.8,522.6 C267.0,525.7 267.2,528.8 267.5,531.9 C267.8,535.0 268.2,538.1 268.5,541.2 C268.9,544.3 269.3,547.3 269.7,550.4 C270.1,553.5 270.6,556.5 271.1,559.6 C271.5,562.6 272.1,565.7 272.6,568.7 C273.2,571.7 273.8,574.8 274.5,577.8 C275.1,580.8 275.8,583.8 276.6,586.8 C277.3,589.7 278.1,592.7 279.0,595.7 C279.8,598.6 280.7,601.6 281.7,604.5 C282.7,607.4 283.7,610.3 284.8,613.2 C285.9,616.1 287.1,619.0 288.4,621.8 C289.6,624.7 290.9,627.5 292.3,630.3 C293.7,633.1 295.2,635.9 296.7,638.5 C298.3,641.2 300.0,643.9 301.7,646.4 C303.5,648.9 305.3,651.4 307.3,653.7 C309.3,656.1 311.3,658.4 313.5,660.5 C315.7,662.6 318.0,664.6 320.5,666.5 C322.9,668.4 325.4,670.2 328.0,671.9 C330.6,673.5 333.2,675.1 336.0,676.5 C338.7,677.9 341.5,679.2 344.4,680.4 C347.2,681.6 350.1,682.7 353.1,683.6 C356.0,684.6 359.0,685.4 361.9,686.1 C364.9,686.9 367.9,687.5 370.9,688.0 C374.0,688.5 377.0,688.9 380.1,689.3 C383.1,689.6 386.2,689.9 389.2,690.0 C392.3,690.2 395.4,690.4 398.5,690.4 C401.6,690.5 404.7,690.5 407.8,690.5 C410.9,690.4 414.0,690.4 417.1,690.3 C420.2,690.2 423.4,690.0 426.5,689.9 C429.6,689.8 432.7,689.6 435.8,689.5 C438.9,689.3 442.0,689.2 445.1,689.1 C448.2,688.9 451.3,688.8 454.4,688.7 C457.5,688.6 460.5,688.5 463.6,688.4 C466.7,688.3 469.8,688.2 472.8,688.1 C475.9,688.0 479.0,688.0 482.0,687.9 C485.1,687.9 488.2,687.8 491.2,687.8 C494.3,687.7 497.4,687.7 500.5,687.7 C503.6,687.7 506.7,687.7 509.8,687.8 C512.8,687.8 515.9,687.9 519.0,687.9 C522.0,688.0 525.1,688.0 528.2,688.1 C531.2,688.2 534.3,688.3 537.4,688.4 C540.5,688.5 543.5,688.6 546.6,688.7 C549.7,688.8 552.8,688.9 555.9,689.1 C559.0,689.2 562.1,689.3 565.2,689.5 C568.3,689.6 571.4,689.8 574.5,689.9 C577.6,690.0 580.8,690.2 583.9,690.3 C587.0,690.4 590.1,690.4 593.2,690.5 C596.3,690.5 599.4,690.5 602.5,690.4 C605.6,690.4 608.7,690.2 611.8,690.0 C614.8,689.9 617.9,689.6 620.9,689.3 C624.0,688.9 627.0,688.5 630.1,688.0 C633.1,687.5 636.1,686.9 639.1,686.1 C642.0,685.4 645.0,684.6 647.9,683.6 C650.9,682.7 653.8,681.6 656.6,680.4 C659.5,679.2 662.3,677.9 665.0,676.5 C667.8,675.1 670.4,673.5 673.0,671.9 C675.6,670.2 678.1,668.4 680.5,666.5 C683.0,664.6 685.3,662.6 687.5,660.5 C689.7,658.4 691.7,656.1 693.7,653.7 C695.7,651.4 697.5,648.9 699.3,646.4 C701.0,643.9 702.7,641.2 704.3,638.5 C705.8,635.9 707.3,633.1 708.7,630.3 C710.1,627.5 711.4,624.7 712.6,621.8 C713.9,619.0 715.1,616.1 716.2,613.2 C717.3,610.3 718.3,607.4 719.3,604.5 C720.3,601.6 721.2,598.6 722.0,595.7 C722.9,592.7 723.7,589.7 724.4,586.8 C725.2,583.8 725.9,580.8 726.5,577.8 C727.2,574.8 727.8,571.7 728.4,568.7 C728.9,565.7 729.5,562.6 729.9,559.6 C730.4,556.5 730.9,553.5 731.3,550.4 C731.7,547.3 732.1,544.3 732.5,541.2 C732.8,538.1 733.2,535.0 733.5,531.9 C733.8,528.8 734.0,525.7 734.2,522.6 C734.4,519.6 734.6,516.5 734.6,513.4 C734.7,510.3 734.7,507.2 734.6,504.2 C734.5,501.1 734.3,498.0 734.1,495.0 C733.8,491.9 733.4,488.9 733.0,485.9 C732.5,482.9 732.0,479.8 731.4,476.8 C730.8,473.8 730.1,470.8 729.4,467.8 C728.8,464.8 728.0,461.8 727.3,458.8 C726.5,455.8 725.7,452.8 724.9,449.8 C724.1,446.8 723.3,443.9 722.5,440.9 C721.7,437.9 720.9,434.9 720.0,431.9 C719.2,428.9 718.3,425.9 717.4,423.0 C716.5,420.0 715.6,417.0 714.6,414.1 C713.7,411.1 712.7,408.2 711.7,405.3 C710.7,402.4 709.7,399.5 708.6,396.6 C707.6,393.7 706.5,390.8 705.4,387.9 C704.3,385.0 703.1,382.2 702.0,379.3 C700.8,376.5 699.6,373.7 698.4,370.8 C697.2,368.0 695.9,365.2 694.6,362.4 C693.3,359.7 692.0,356.9 690.7,354.1 C689.3,351.3 688.0,348.6 686.6,345.9 C685.2,343.1 683.7,340.4 682.3,337.7 C680.8,335.0 679.4,332.3 677.8,329.6 C676.3,326.9 674.8,324.2 673.3,321.6 C671.7,318.9 670.1,316.3 668.5,313.6 C666.9,311.0 665.3,308.4 663.6,305.8 C662.0,303.2 660.3,300.6 658.6,298.0 C656.9,295.4 655.2,292.8 653.5,290.2 C651.8,287.7 650.0,285.1 648.2,282.6 C646.5,280.0 644.7,277.5 642.9,275.0 C641.1,272.5 639.3,270.0 637.4,267.5 C635.6,265.0 633.7,262.5 631.9,260.0 C630.0,257.6 628.1,255.1 626.2,252.6 C624.4,250.2 622.4,247.7 620.5,245.3 C618.6,242.9 616.7,240.5 614.7,238.0 C612.8,235.6 610.8,233.2 608.9,230.8 C606.9,228.5 604.9,226.1 603.0,223.7 C601.0,221.3 599.0,219.0 597.0,216.6 C595.0,214.3 593.0,211.9 591.0,209.6 C589.0,207.3 587.0,204.9 585.0,202.6 C582.9,200.3 580.9,198.0 578.9,195.7 C576.9,193.4 574.8,191.1 572.8,188.9 C570.8,186.6 568.7,183.9 566.7,182.1 C564.7,180.3 563.0,179.7 561.0,178.0 C559.0,176.3 556.7,173.8 555.0,172.0 C553.3,170.2 551.3,168.6 551.0,167.5 C550.7,166.4 552.6,166.4 553.0,165.5 C553.4,164.6 554.1,162.9 553.6,161.9 C553.1,160.8 551.2,160.2 550.0,159.3 C548.8,158.5 547.6,157.7 546.4,156.9 C545.1,156.1 543.9,155.3 542.6,154.5 C541.3,153.8 540.0,153.1 538.7,152.4 C537.4,151.6 536.0,151.0 534.7,150.3 C533.4,149.7 532.0,149.0 530.6,148.4 C529.2,147.8 527.8,147.3 526.4,146.7 C525.1,146.2 523.6,145.7 522.2,145.2 C520.8,144.8 519.4,144.3 517.9,144.0 C516.5,143.6 515.0,143.2 513.6,142.9 C512.2,142.6 510.7,142.3 509.2,142.1 C507.8,141.9 506.3,141.7 504.9,141.6 C503.4,141.4 501.2,141.4 500.5,141.3 Z" fill="none" stroke="#000" stroke-width="5.2" stroke-linejoin="round"/>
</g>
<rect x="2.5" y="2.3" width="996" height="910" fill="none" stroke="#3c3c3c" stroke-width="5"/>
<g class="s" text-anchor="middle">
<text transform="translate(500.4 368.9) scale(1 0.97)">200</text>
<text transform="translate(500.4 479.1) scale(1 0.97)">300</text>
<text transform="translate(500.4 589.3) scale(1 0.97)">400</text>
<text transform="translate(500.4 809.9) scale(1 0.97)">600</text>
<text transform="translate(20.2 148.7) scale(1 0.97)">90<tspan stroke-width="0.95" font-size="15.4">°</tspan></text>
<text transform="translate(980.3 148.7) scale(1 0.97)">90<tspan stroke-width="0.95" font-size="15.4">°</tspan></text>
<text transform="translate(20.2 277.9) scale(1 0.97)">75<tspan stroke-width="0.95" font-size="15.4">°</tspan></text>
<text transform="translate(980.3 277.9) scale(1 0.97)">75<tspan stroke-width="0.95" font-size="15.4">°</tspan></text>
<text transform="translate(20.2 425.7) scale(1 0.97)">60<tspan stroke-width="0.95" font-size="15.4">°</tspan></text>
<text transform="translate(980.3 425.7) scale(1 0.97)">60<tspan stroke-width="0.95" font-size="15.4">°</tspan></text>
<text transform="translate(20.2 628.9) scale(1 0.97)">45<tspan stroke-width="0.95" font-size="15.4">°</tspan></text>
<text transform="translate(980.3 628.9) scale(1 0.97)">45<tspan stroke-width="0.95" font-size="15.4">°</tspan></text>
<text transform="translate(66.4 900.0) scale(1 0.97)">30<tspan stroke-width="0.95" font-size="15.4">°</tspan></text>
<text transform="translate(299.7 900.0) scale(1 0.97)" clip-path="url(#k15)">15<tspan stroke-width="0.95" font-size="15.4">°</tspan></text>
<text transform="translate(500 900.0) scale(1 0.97)">0<tspan stroke-width="0.95" font-size="15.4">°</tspan></text>
<text transform="translate(701.7 900.0) scale(1 0.97)" clip-path="url(#k15)">15<tspan stroke-width="0.95" font-size="15.4">°</tspan></text>
<text transform="translate(934.3 900.0) scale(1 0.97)">30<tspan stroke-width="0.95" font-size="15.4">°</tspan></text>
</g>
<text class="b" transform="translate(10.3 935.7) scale(1 0.97)">cd/klm</text>
<text class="b" text-anchor="end" transform="translate(989.8 935.7) scale(1 0.97)" clip-path="url(#kE)">η = 100 %</text>
<line x1="10" y1="962.5" x2="61" y2="962.5" stroke="#eb9c3a" stroke-width="1"/>
<line x1="10" y1="982.5" x2="61" y2="982.5" stroke="#000" stroke-width="1"/>
<text class="l" transform="translate(70.9 970.0) scale(1 0.96)" clip-path="url(#kC)">C0/C180</text>
<text class="l" transform="translate(70.9 989.5) scale(1 0.96)">C90/C270</text>
</svg>
</body></html>
